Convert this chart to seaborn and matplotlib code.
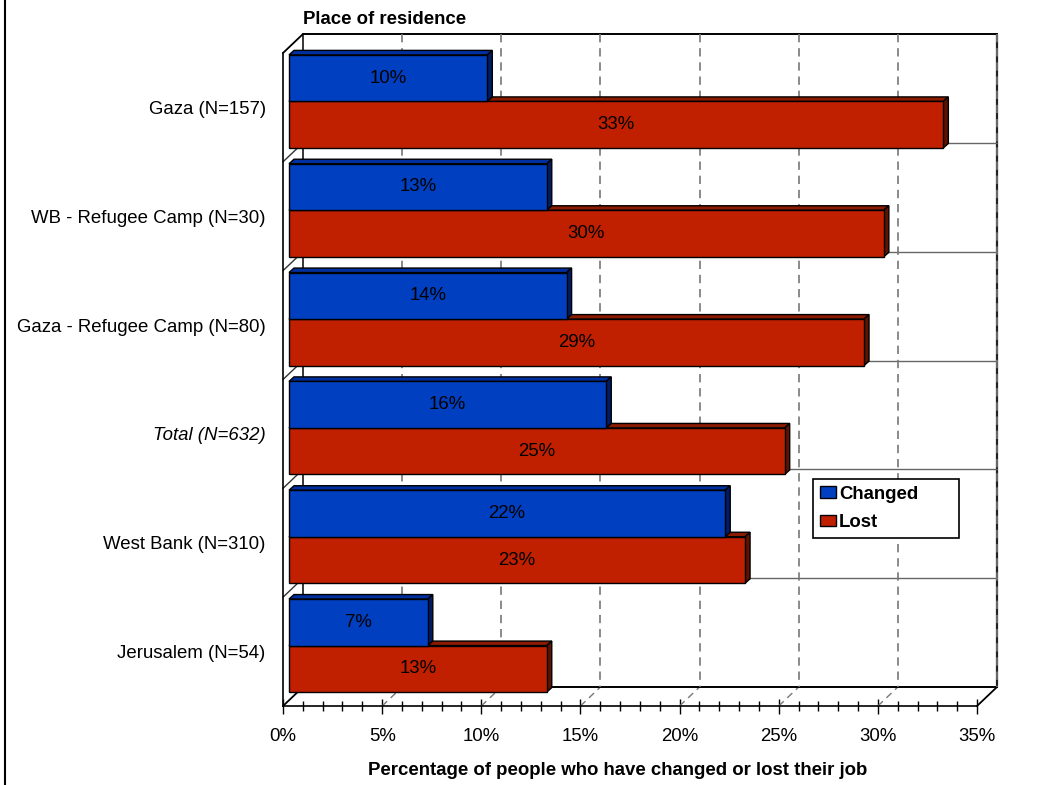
import numpy as np
import pandas as pd
import matplotlib
matplotlib.use("Agg")
import matplotlib.pyplot as plt
import seaborn as sns
from matplotlib import transforms
from matplotlib.patches import Polygon, Rectangle
from matplotlib.lines import Line2D
from matplotlib.ticker import MultipleLocator, FuncFormatter

# ---------------- data ----------------
categories = ["Gaza (N=157)", "WB - Refugee Camp (N=30)", "Gaza - Refugee Camp (N=80)",
              "Total (N=632)", "West Bank (N=310)", "Jerusalem (N=54)"]
series = ["Changed", "Lost"]
changed = [10, 13, 14, 16, 22, 7]
lost = [33, 30, 29, 25, 23, 13]
x_max = 35
title_text = "Place of residence"
xlabel_text = "Percentage of people who have changed or lost their job"

# ---------------- style ----------------
sns.set_style("white")
plt.rcParams["font.family"] = ["Liberation Sans", "DejaVu Sans"]
plt.rcParams["text.color"] = "black"
plt.rcParams["axes.labelcolor"] = "black"
plt.rcParams["xtick.color"] = "black"
plt.rcParams["ytick.color"] = "black"
plt.rcParams["xtick.labelcolor"] = "black"
plt.rcParams["ytick.labelcolor"] = "black"
FS = 13.4

BLUE, BLUE_TOP, BLUE_SIDE = "#0040C0", "#0030A0", "#001C66"
RED, RED_TOP, RED_SIDE = "#C02000", "#8A1A00", "#5E1200"
top_col = {BLUE: BLUE_TOP, RED: RED_TOP}
side_col = {BLUE: BLUE_SIDE, RED: RED_SIDE}

W, H = 1040, 785
fig = plt.figure(figsize=(W / 100, H / 100), dpi=100)
fig.patch.set_facecolor("white")

# front plane of the pseudo-3D box
L, R, T, B = 283, 977, 53, 706
ax = fig.add_axes([L / W, 1 - B / H, (R - L) / W, (B - T) / H])

df = pd.DataFrame({
    "Place": categories * 2,
    "Series": [series[0]] * len(categories) + [series[1]] * len(categories),
    "Pct": changed + lost,
})
sns.barplot(data=df, x="Pct", y="Place", hue="Series", hue_order=series, order=categories,
            palette={series[0]: BLUE, series[1]: RED}, saturation=1, width=0.855,
            orient="y", edgecolor="black", linewidth=1.0, legend=False, ax=ax)

n = len(categories)
ax.set_xlim(0, x_max)
ax.set_ylim(n - 0.5, -0.5)

sx = (R - L) / x_max          # px per percent
sy = (B - T) / n              # px per category
DX, DY = 20 / sx, 19 / sy     # wall depth in data units
bdx, bdy = 5 / sx, 4.5 / sy   # bar depth in data units

bar_trans = transforms.offset_copy(ax.transData, fig=fig, x=6, y=6, units="dots")

# ---------------- walls ----------------
ytop, ybot = -0.5, n - 0.5
kw = dict(clip_on=False, zorder=0.6)
for xv in range(5, x_max + 1, 5):
    if xv == x_max:
        ax.plot([xv + DX, xv + DX], [ytop - DY, ybot - DY], color="#222222", lw=1.6, **kw)
    ax.plot([xv + DX, xv + DX], [ytop - DY, ybot - DY], color="#777777", lw=1.2,
            ls=(0, (5, 3.5)), clip_on=False, zorder=0.65)
    if xv < x_max:
        ax.plot([xv, xv + DX], [ybot, ybot - DY], color="#777777", lw=1.0,
                ls=(0, (5, 3.5)), **kw)
for k in range(1, n):
    yb = k - 0.5
    ax.plot([DX, x_max + DX], [yb - DY, yb - DY], color="#666666", lw=1.0, **kw)
    ax.plot([0, DX], [yb, yb - DY], color="#333333", lw=1.0, **kw)
ax.plot([DX, x_max + DX], [ytop - DY, ytop - DY], color="black", lw=1.4, **kw)
ax.plot([DX, DX], [ytop - DY, ybot - DY], color="black", lw=1.1, **kw)
ax.plot([DX, x_max + DX], [ybot - DY, ybot - DY], color="black", lw=1.4, **kw)
ax.plot([0, DX], [ytop, ytop - DY], color="black", lw=1.3, **kw)
ax.plot([0, DX], [ybot, ybot - DY], color="black", lw=1.3, **kw)
ax.plot([x_max, x_max + DX], [ybot, ybot - DY], color="black", lw=1.3, **kw)

# ---------------- bars (3D faces) ----------------
bars = [p for p in ax.patches if isinstance(p, Rectangle) and p.get_width() > 0]
for p in bars:
    fc = matplotlib.colors.to_hex(p.get_facecolor())
    fc = BLUE if fc.lower() == BLUE.lower() else RED
    base_z = 2.2 if fc == BLUE else 2.0
    x0, y0, w, h = p.get_x(), p.get_y(), p.get_width(), p.get_height()
    xr, yt, yb = x0 + w, y0, y0 + h
    p.set_transform(bar_trans)
    p.set_zorder(base_z + 0.1)
    p.set_clip_on(False)
    top = Polygon([(x0, yt), (xr, yt), (xr + bdx, yt - bdy), (x0 + bdx, yt - bdy)],
                  closed=True, facecolor=top_col[fc], edgecolor="black", lw=1.0,
                  transform=bar_trans, zorder=base_z, clip_on=False)
    side = Polygon([(xr, yt), (xr + bdx, yt - bdy), (xr + bdx, yb - bdy), (xr, yb)],
                   closed=True, facecolor=side_col[fc], edgecolor="black", lw=1.0,
                   transform=bar_trans, zorder=base_z, clip_on=False)
    ax.add_patch(top)
    ax.add_patch(side)
    ax.text(x0 + w / 2, y0 + h / 2, f"{w:.0f}%", transform=bar_trans, ha="center",
            va="center", fontsize=FS, color="black", zorder=3)

# ---------------- axes ----------------
ax.grid(False)
ax.set_facecolor("white")
for s in ["top", "right"]:
    ax.spines[s].set_visible(False)
for s in ["left", "bottom"]:
    ax.spines[s].set_visible(True)
    ax.spines[s].set_color("black")
    ax.spines[s].set_linewidth(1.2)
    ax.spines[s].set_zorder(0.7)
ax.xaxis.set_major_locator(MultipleLocator(5))
ax.xaxis.set_minor_locator(MultipleLocator(1))
ax.xaxis.set_major_formatter(FuncFormatter(lambda v, _: f"{v:.0f}%"))
ax.tick_params(axis="x", which="major", direction="inout", length=10.8, width=1.0,
               color="black", labelcolor="black", labelsize=FS, pad=10.5, bottom=True)
ax.tick_params(axis="x", which="minor", direction="inout", length=7.2, width=1.0,
               color="black", bottom=True)
ax.set_yticks(range(n))
ax.set_yticklabels(categories)
ax.tick_params(axis="y", length=0, pad=12.5, labelsize=FS, labelcolor="black")
for i, lab in enumerate(ax.get_yticklabels()):
    lab.set_color("black")
    if categories[i].startswith("Total"):
        lab.set_fontstyle("italic")
ax.set_xlabel("")
ax.set_ylabel("")

# ---------------- legend ----------------
handles = [Rectangle((0, 0), 1, 1, facecolor=BLUE, edgecolor="black", lw=1.0),
           Rectangle((0, 0), 1, 1, facecolor=RED, edgecolor="black", lw=1.0)]
leg = fig.legend(handles, series, loc="upper left",
                 bbox_to_anchor=(813 / W, 1 - 535 / H, 146 / W, 56 / H),
                 bbox_transform=fig.transFigure, mode="expand", borderaxespad=0,
                 frameon=True, fancybox=False, edgecolor="black", framealpha=1,
                 prop={"weight": "bold", "size": FS}, handlelength=0.9, handleheight=0.6,
                 handletextpad=0.15, borderpad=0.35, labelspacing=0.62)
leg.get_frame().set_linewidth(1.2)
for t in leg.get_texts():
    t.set_color("black")

# ---------------- texts & border ----------------
fig.text(303 / W, 1 - 24 / H, title_text, ha="left", va="baseline", fontsize=FS,
         fontweight="bold", color="black")
fig.text(618 / W, 1 - 775 / H, xlabel_text, ha="center", va="baseline", fontsize=FS,
         fontweight="bold", color="black")
fig.add_artist(Line2D([5 / W, 5 / W], [0, 1], transform=fig.transFigure, color="black",
                      lw=1.5))

fig.savefig("out.png", dpi=100, facecolor="white")
